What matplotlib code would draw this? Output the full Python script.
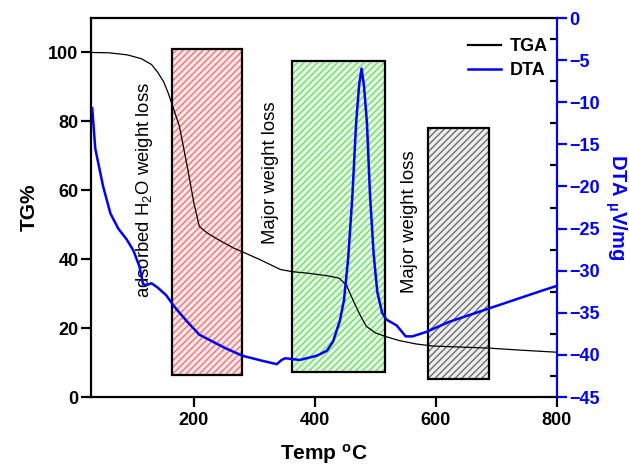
import matplotlib
matplotlib.use('Agg')
import matplotlib.pyplot as plt
from matplotlib.ticker import MultipleLocator
from matplotlib.lines import Line2D

plt.rcParams['font.family'] = ['Liberation Sans', 'DejaVu Sans']
plt.rcParams['font.weight'] = 'bold'
plt.rcParams['mathtext.fontset'] = 'custom'
plt.rcParams['mathtext.rm'] = 'Liberation Sans'
plt.rcParams['mathtext.default'] = 'regular'
plt.rcParams['hatch.linewidth'] = 1.0

# TGA curve (left axis, %)
tga_temp = [30, 60, 90, 113, 130, 140, 150, 157, 165, 176, 190, 200, 209, 222, 241, 266,
            282, 310, 343, 362, 390, 420, 440, 452, 462, 474, 485, 500, 518, 539, 567, 594,
            640, 687, 740, 800]
tga_val = [100, 99.9, 99.3, 98.2, 96.5, 94.3, 91.5, 88.5, 84.4, 78.6, 66, 56.3, 49.5, 47.6,
           45.6, 43.2, 42, 39.8, 37, 36.4, 35.9, 35.2, 34.5, 32.5, 28.5, 24, 20.5, 18.6, 17.5,
           16.4, 15.4, 14.8, 14.5, 14.2, 13.6, 13.0]

# DTA curve (right axis, uV/mg)
dta_temp = [32, 37, 50, 62, 75, 89, 100, 110, 116, 122, 130, 140, 154, 168, 187, 209, 225,
            252, 280, 313, 337, 345, 351, 375, 403, 420, 430, 441, 448, 455, 462, 468, 473,
            477, 481, 486, 491, 497, 503, 511, 518, 535, 550, 561, 583, 621, 687, 774, 800]
dta_val = [-10.7, -15.5, -20, -23.2, -25, -26.3, -27.6, -29.5, -31.6, -31.7, -31.5, -32,
           -32.9, -34.3, -35.9, -37.6, -38.2, -39.2, -40.1, -40.7, -41.1, -40.6, -40.4, -40.6,
           -40.1, -39.5, -38.4, -36, -33.5, -28.5, -21, -12.5, -8, -6, -8, -12.5, -21, -28,
           -32.5, -35, -35.8, -36.5, -37.8, -37.8, -37.3, -36.1, -34.5, -32.4, -31.8]

# shaded regions
box_left = [164, 362, 587]
box_right = [280, 516, 687]
box_bottom = [6.4, 7.3, 5.2]
box_top = [101, 97.4, 78.2]
box_face = ['#fbe6e2', '#e2f9df', '#eeeeee']
box_hatch = ['#ec7480', '#74dc74', '#6e6e6e']

labels = ['adsorbed H$_2$O weight loss', 'Major weight loss', 'Major weight loss']
label_x = [118, 326, 556]
label_y = [60, 65, 51]

fig = plt.figure(figsize=(6.29, 4.69), dpi=100)
ax1 = fig.add_axes([0.1447, 0.1535, 0.7408, 0.8081])

for i in range(len(box_left)):
    w = box_right[i] - box_left[i]
    h = box_top[i] - box_bottom[i]
    ax1.bar(box_left[i], h, width=w, bottom=box_bottom[i], align='edge',
            color=box_face[i], edgecolor=box_hatch[i], hatch='/////', linewidth=0, zorder=1)
    ax1.bar(box_left[i], h, width=w, bottom=box_bottom[i], align='edge',
            fill=False, edgecolor='black', linewidth=1.6, zorder=2)

ax1.plot(tga_temp, tga_val, color='black', lw=0.9, zorder=3)

for t, x, y in zip(labels, label_x, label_y):
    ax1.text(x, y, t, rotation=90, ha='center', va='center', fontsize=13.3,
             fontweight='normal', zorder=4)

ax1.set_xlim(30, 800)
ax1.set_ylim(0, 110)
ax1.set_xticks([200, 400, 600, 800])
ax1.set_yticks([0, 20, 40, 60, 80, 100])
ax1.tick_params(direction='out', width=1.6, length=7, pad=2, labelsize=13)
ax1.tick_params(axis='x', pad=4)
for s in ['left', 'bottom', 'top']:
    ax1.spines[s].set_linewidth(1.6)
ax1.spines['right'].set_visible(False)
ax1.set_xlabel('Temp $^{o}$C', fontsize=15, fontweight='bold', labelpad=9)
ax1.set_ylabel('TG%', fontsize=15, fontweight='bold', labelpad=7)

ax2 = ax1.twinx()
ax2.plot(dta_temp, dta_val, color='blue', lw=1.8)
ax2.set_ylim(-45, 0)
ax2.set_yticks(range(-45, 1, 5))
ax2.yaxis.set_minor_locator(MultipleLocator(2.5))
ax2.tick_params(axis='y', which='major', direction='out', width=1.6, length=7, pad=2,
                labelsize=13, colors='blue')
ax2.tick_params(axis='y', which='minor', direction='in', width=1.6, length=5, colors='black')
ax2.spines['right'].set_color('blue')
ax2.spines['right'].set_linewidth(1.6)
for s in ['left', 'bottom', 'top']:
    ax2.spines[s].set_visible(False)
ax2.set_ylabel('DTA $_{\\mu}$V/mg', fontsize=14.5, fontweight='bold', color='blue',
               rotation=270, va='bottom', labelpad=2)

handles = [Line2D([], [], color='black', lw=1.6), Line2D([], [], color='blue', lw=1.8)]
ax2.legend(handles, ['TGA', 'DTA'], loc='upper right', bbox_to_anchor=(1.015, 0.99),
           frameon=False, fontsize=13, handlelength=1.8, handletextpad=0.5,
           labelspacing=0.4)

fig.savefig('out.png', dpi=100)
